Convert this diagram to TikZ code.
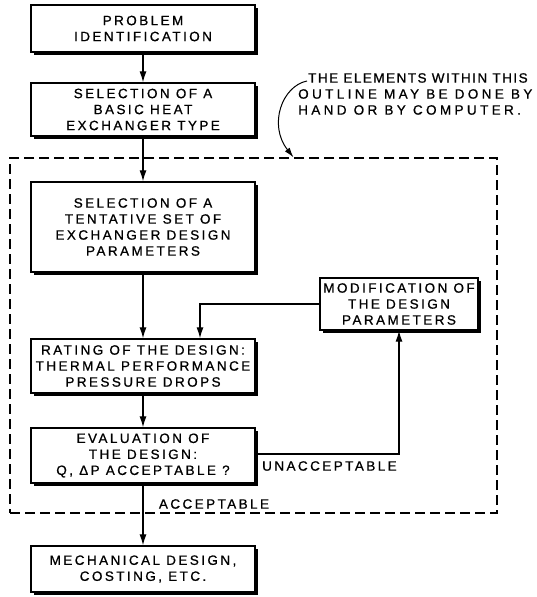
\documentclass[tikz,border=0pt]{standalone}
\usepackage{fontspec}
\setmainfont{Liberation Sans}[LetterSpace=18,FakeBold=0.8]
\usetikzlibrary{shadows,arrows.meta}
\begin{document}
\begin{tikzpicture}[x=1pt,y=-1pt,
  every node/.style={font=\fontsize{13.5}{16}\selectfont},
  box/.style={draw, line width=1.3pt, fill=white, align=center, inner sep=0pt,
    minimum width=224pt,
    drop shadow={shadow xshift=3pt, shadow yshift=-3pt, fill=black, opacity=1}},
  arr/.style={line width=1.2pt, -{Latex[length=11pt,width=7pt]}},
  outline/.style={draw, dashed, dash pattern=on 10pt off 5pt, line width=1.2pt, inner sep=0pt}]
\useasboundingbox (0,0) rectangle (537,597);
\node[outline, minimum width=487pt, minimum height=355pt] (ol) at (253.5,335.5) {};
\node[box, minimum height=47pt] (b1) at (143,28.5) {PROBLEM\\IDENTIFICATION};
\node[box, minimum height=53pt] (b2) at (143,109.5) {SELECTION OF A\\BASIC HEAT\\EXCHANGER TYPE};
\node[box, minimum height=90pt] (b3) at (143,227) {SELECTION OF A\\TENTATIVE SET OF\\EXCHANGER DESIGN\\PARAMETERS};
\node[box, minimum height=54pt] (b4) at (143,366) {RATING OF THE DESIGN:\\THERMAL PERFORMANCE\\PRESSURE DROPS};
\node[box, minimum height=55pt] (b5) at (143,455.5) {EVALUATION OF\\THE DESIGN:\\Q, ΔP ACCEPTABLE ?};
\node[box, minimum height=46pt] (b6) at (143,569) {MECHANICAL DESIGN,\\COSTING, ETC.};
\node[box, minimum width=158pt, minimum height=52pt] (mod) at (399,304) {MODIFICATION OF\\THE DESIGN\\PARAMETERS};
\draw[arr] (b1) -- (b2);
\draw[arr] (b2) -- (b3);
\draw[arr] (b3) -- (b4);
\draw[arr] (b4) -- (b5);
\draw[arr] (b5) -- (b6);
\draw[arr] (b5.east |- 0,454) -| (mod.south);
\draw[arr] (mod.west) -| ([xshift=57pt]b4.north);
\node[anchor=west, inner sep=0pt] (unacc) at (262,466) {UNACCEPTABLE};
\node[inner sep=0pt] (acc) at (214,504) {ACCEPTABLE};
\node[anchor=north west, align=left, inner sep=0pt, font=\fontsize{13.5}{16}\selectfont\addfontfeature{LetterSpace=25}] (ann) at (298,73) {\hspace*{10pt}{\addfontfeature{LetterSpace=11}THE ELEMENTS WITHIN THIS}\\OUTLINE MAY BE DONE BY\\HAND OR BY COMPUTER.};
\coordinate (annstart) at (307,81);
\draw[line width=1pt, -{Latex[length=10pt,width=6pt]}] (annstart) .. controls (282,86) and (268,125) .. ([xshift=40pt]ol.north);
\end{tikzpicture}
\end{document}
